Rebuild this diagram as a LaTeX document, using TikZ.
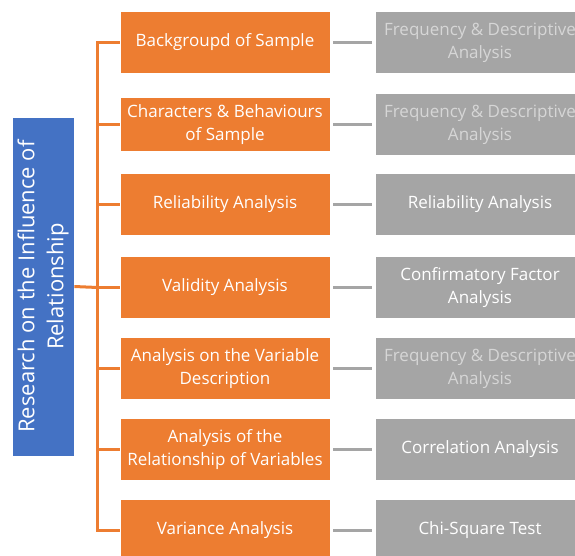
\documentclass[tikz,border=0pt]{standalone}
\usepackage{fontspec}
\setmainfont{Open Sans}
\definecolor{boxorange}{HTML}{ED7D31}
\definecolor{boxblue}{HTML}{4472C4}
\definecolor{boxgray}{HTML}{A5A5A5}
\definecolor{fadetext}{HTML}{D6D6D6}
\begin{document}
\begin{tikzpicture}[x=1pt,y=-1pt,
  basebox/.style={rectangle, draw=white, line width=0.8pt, minimum width=210pt,
    minimum height=62pt, inner sep=2pt, align=center, text=white,
    font=\fontsize{17}{23}\selectfont},
  stage/.style={basebox, fill=boxorange},
  method/.style={basebox, fill=boxgray},
  faded/.style={text=fadetext},
  root/.style={rectangle, draw=white, line width=0.8pt, fill=boxblue, text=white,
    minimum width=339pt, minimum height=62pt, align=center, rotate=90,
    font=\fontsize{22}{29}\selectfont},
  trunkline/.style={draw=boxorange, line width=3pt},
  grayline/.style={draw=boxgray, line width=3pt, shorten <=3pt, shorten >=3pt}]
\useasboundingbox (0,0) rectangle (575,555);
\clip (0,0) rectangle (575,555);

% root box, rotated
\node[root] (root) at (43,286.5) {Research on the Influence of\\Relationship};

% analysis stages
\node[stage] (o1) at (225,42.5) {Backgroupd of Sample};
\node[stage, minimum height=54pt] (o2) at (225,124.5) {Characters \& Behaviours\\of Sample};
\node[stage] (o3) at (225,204.5) {Reliability Analysis};
\node[stage] (o4) at (225,287.5) {Validity Analysis};
\node[stage] (o5) at (225,368.5) {Analysis on the Variable\\Description};
\node[stage] (o6) at (225,449.5) {Analysis of the\\Relationship of Variables};
\node[stage] (o7) at (225,530.5) {Variance Analysis};

% statistical methods
\node[method, faded] (g1) at (480,42.5) {Frequency \& Descriptive\\Analysis};
\node[method, faded] (g2) at (480,124.5) {Frequency \& Descriptive\\Analysis};
\node[method] (g3) at (480,204.5) {Reliability Analysis};
\node[method] (g4) at (480,287.5) {Confirmatory Factor\\Analysis};
\node[method, faded] (g5) at (480,368.5) {Frequency \& Descriptive\\Analysis};
\node[method] (g6) at (480,449.5) {Correlation Analysis};
\node[method] (g7) at (480,530.5) {Chi-Square Test};

% tree connectors
\coordinate (trunk) at (97.5,287.5);
\coordinate (ttop) at (97.5,41);
\coordinate (tbot) at (97.5,532);
\draw[trunkline] (ttop) -- (tbot);
\draw[trunkline] (root.south) -- (trunk);
\foreach \i in {1,...,7} {
  \draw[trunkline] (o\i.west) -- (o\i.west -| trunk);
  \draw[grayline] (o\i.east) -- (g\i.west);
}
\end{tikzpicture}
\end{document}
